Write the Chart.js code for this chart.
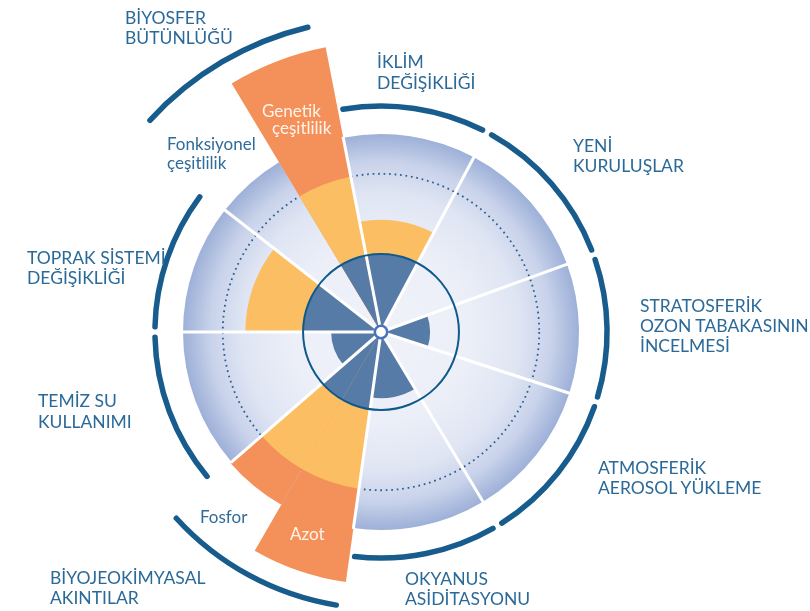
<!DOCTYPE html>
<html lang="tr">
<head>
<meta charset="utf-8">
<title>Gezegen sınırları</title>
<script src="https://cdn.jsdelivr.net/npm/chart.js@4"></script>
<style>
  html, body { margin:0; padding:0; background:#fff; }
  #wrap { position:relative; width:810px; height:611px; overflow:hidden; font-family: Lato, 'Open Sans', sans-serif; }
  canvas { position:absolute; left:0; top:0; }
  .lab { position:absolute; font-size:17.5px; line-height:20px; color:#2b6a98; white-space:nowrap; }
  .sub { position:absolute; font-size:17px; line-height:19px; color:#2f6c9a; white-space:nowrap; }
  .in { color:#fff3ea; }
</style>
</head>
<body>
<div id="wrap">
  <canvas id="chart" width="810" height="611"></canvas>
  <div class="lab" style="left:125px;top:8px">BİYOSFER<br>BÜTÜNLÜĞÜ</div>
  <div class="lab" style="left:377px;top:51px;line-height:21px">İKLİM<br>DEĞİŞİKLİĞİ</div>
  <div class="lab" style="left:573px;top:136px">YENİ<br>KURULUŞLAR</div>
  <div class="lab" style="left:640px;top:296px">STRATOSFERİK<br>OZON TABAKASININ<br>İNCELMESİ</div>
  <div class="lab" style="left:598px;top:458px">ATMOSFERİK<br>AEROSOL YÜKLEME</div>
  <div class="lab" style="left:405px;top:569px">OKYANUS<br>ASİDİTASYONU</div>
  <div class="lab" style="left:50px;top:568px">BİYOJEOKİMYASAL<br>AKINTILAR</div>
  <div class="lab" style="left:38px;top:390px;line-height:21px">TEMİZ SU<br>KULLANIMI</div>
  <div class="lab" style="left:27px;top:248px">TOPRAK SİSTEMİ<br>DEĞİŞİKLİĞİ</div>
  <div class="sub" style="left:167px;top:134px">Fonksiyonel<br>çeşitlilik</div>
  <div class="sub in" style="left:262px;top:101px">Genetik</div>
  <div class="sub in" style="left:272px;top:118px">çeşitlilik</div>
  <div class="sub" style="left:200px;top:507px">Fosfor</div>
  <div class="sub in" style="left:290px;top:524px">Azot</div>
</div>
<script>
// sub-categories clockwise from the top, in units of the boundary value (1 = safe boundary)
const categories = ['İklim değişikliği', 'Yeni kuruluşlar', 'Stratosferik ozon', 'Atmosferik aerosol',
  'Okyanus asiditasyonu', 'Azot', 'Fosfor', 'Temiz su kullanımı', 'Toprak sistemi değişikliği',
  'Fonksiyonel çeşitlilik', 'Genetik çeşitlilik'];
const boundaryOf = [0, 1, 2, 3, 4, 5, 5, 6, 7, 8, 8];
const spans = [39, 42, 38, 41, 39, 22, 19, 41, 38, 21, 20];
const safeZone = [1, 0, 0.63, 0, 0.85, 1, 1, 0.64, 1, 0, 1];
const uncertainZone = [1.44, 0, 0, 0, 0, 2.03, 2.03, 0, 1.74, 0, 2.03];
const highRiskZone = [0, 0, 0, 0, 0, 3.24, 2.56, 0, 0, 0, 3.72];
const boundaryLevel = 1;
const highRiskLevel = 2.03;
const outerLevel = 2.54;

const angleOf = c => spans[c.dataIndex];

function diskFill(c) {
  const s = c.chart.scales.r;
  if (!s || !s.drawingArea) return '#e3e8f4';
  const g = c.chart.ctx.createRadialGradient(s.xCenter, s.yCenter, 0, s.xCenter, s.yCenter, s.drawingArea);
  g.addColorStop(0, '#f0f2f9');
  g.addColorStop(0.45, '#eceff8');
  g.addColorStop(0.7, '#dfe5f3');
  g.addColorStop(0.86, '#c8d2ea');
  g.addColorStop(1, '#9db0d8');
  return g;
}

const decor = {
  id: 'decor',
  afterDatasetDraw(chart, args) {
    if (args.index !== 3) return;
    const s = chart.scales.r, ctx = chart.ctx;
    ctx.save();
    ctx.beginPath();
    ctx.arc(s.xCenter, s.yCenter, s.getDistanceFromCenterForValue(highRiskLevel), 0, Math.PI * 2);
    ctx.setLineDash([1.7, 3.8]);
    ctx.lineWidth = 1.8;
    ctx.strokeStyle = '#2d5b92';
    ctx.stroke();
    ctx.restore();
  },
  afterDatasetsDraw(chart) {
    const s = chart.scales.r, ctx = chart.ctx;
    const arcs = chart.getDatasetMeta(3).data;
    const len = s.getDistanceFromCenterForValue(outerLevel) + 1;
    ctx.save();
    ctx.strokeStyle = '#ffffff';
    ctx.lineWidth = 3;
    arcs.forEach((a, i) => {
      const prev = (i + arcs.length - 1) % arcs.length;
      if (boundaryOf[i] === boundaryOf[prev]) return;
      ctx.beginPath();
      ctx.moveTo(s.xCenter, s.yCenter);
      ctx.lineTo(s.xCenter + Math.cos(a.startAngle) * len, s.yCenter + Math.sin(a.startAngle) * len);
      ctx.stroke();
    });
    ctx.restore();
  },
  afterDraw(chart) {
    const s = chart.scales.r, ctx = chart.ctx;
    const arcs = chart.getDatasetMeta(3).data;
    const groups = [];
    arcs.forEach((a, i) => {
      const b = boundaryOf[i];
      if (!groups[b]) groups[b] = { start: a.startAngle, end: a.endAngle };
      else groups[b].end = a.endAngle;
    });
    const ringAt = { 5: 3.55, 8: 4.02 };
    const padAt = { 8: [4.5, 2.5] };
    const deg = Math.PI / 180;
    ctx.save();
    ctx.strokeStyle = '#175c8c';
    ctx.lineWidth = 5.5;
    ctx.lineCap = 'round';
    groups.forEach((g, b) => {
      const rad = s.getDistanceFromCenterForValue(ringAt[b] || 2.9);
      const pad = padAt[b] || [1.3, 1.3];
      ctx.beginPath();
      ctx.arc(s.xCenter, s.yCenter, rad, g.start + pad[0] * deg, g.end - pad[1] * deg);
      ctx.stroke();
    });
    // hub
    ctx.beginPath();
    ctx.arc(s.xCenter, s.yCenter, 6.2, 0, Math.PI * 2);
    ctx.fillStyle = '#ffffff';
    ctx.fill();
    ctx.lineWidth = 2.6;
    ctx.strokeStyle = '#4a72bf';
    ctx.stroke();
    ctx.restore();
  }
};

new Chart(document.getElementById('chart'), {
  type: 'polarArea',
  data: {
    labels: categories,
    datasets: [
      { label: 'Güvenli alan', data: safeZone, backgroundColor: '#557ba6', borderWidth: 0, angle: angleOf },
      { label: 'Belirsizlik alanı', data: uncertainZone, backgroundColor: '#fcbe62', borderWidth: 0, angle: angleOf },
      { label: 'Yüksek risk', data: highRiskZone, backgroundColor: '#f4915a', borderWidth: 0, angle: angleOf },
      { label: 'Alan', data: categories.map(() => outerLevel), backgroundColor: diskFill, borderWidth: 0, angle: angleOf }
    ]
  },
  options: {
    responsive: false,
    animation: false,
    events: [],
    layout: { padding: { left: 183, right: 231, top: 134, bottom: 81 } },
    plugins: { legend: { display: false }, tooltip: { enabled: false } },
    scales: {
      r: {
        min: 0, max: outerLevel, startAngle: -11,
        ticks: { display: false, stepSize: 1 },
        grid: { z: 1, color: c => (c.tick && c.tick.value === boundaryLevel) ? '#0f5a8c' : 'rgba(0,0,0,0)', lineWidth: 2 },
        angleLines: { display: false },
        pointLabels: { display: false }
      }
    }
  },
  plugins: [decor]
});
</script>
</body>
</html>
